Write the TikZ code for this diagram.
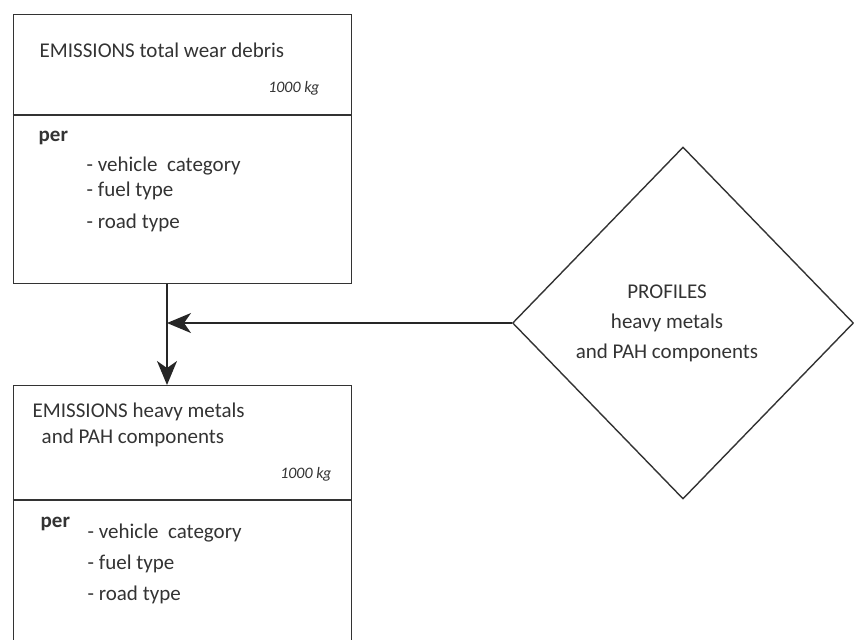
\documentclass[tikz,border=0pt]{standalone}
\usepackage{fontspec}
\setmainfont{Carlito}
\usetikzlibrary{shapes.geometric, arrows.meta}

\begin{document}
\begin{tikzpicture}[x=0.5pt, y=-0.5pt, line width=0.7pt,
		box/.style={draw=black!80, rectangle, inner sep=0pt, anchor=north west, minimum width=169pt},
		lbl/.style={anchor=base west, inner sep=0pt, text=black!80, font=\fontsize{10.5}{12}\selectfont},
		amount/.style={anchor=base east, inner sep=0pt, text=black!80, font=\fontsize{8}{9}\selectfont\itshape},
		flow/.style={draw=black!85, line width=0.8pt, -{Stealth[length=12pt, width=10pt, inset=3.5pt]}}]
		\useasboundingbox (0, 0) rectangle (854, 639);
		\clip (0, 0) rectangle (854, 639);
		
		\node[box, minimum height=134.5pt] (wear) at (12.5, 14) {};
		\draw[black!80] (wear.west |- 0, 115) -- (wear.east |- 0, 115);
		\node[lbl] (weartitle) at (39, 57) {EMISSIONS total wear debris};
		\node[amount] (wearkg) at (320, 92) {1000 kg};
		\node[lbl, font=\fontsize{10.5}{12}\selectfont\bfseries] (wearper) at (38, 141) {per};
		\node[lbl] (wearveh) at (86, 171) {- vehicle\ \ category};
		\node[lbl] (wearfuel) at (86, 196) {- fuel type};
		\node[lbl] (wearroad) at (86, 228) {- road type};
		
		\node[box, minimum height=140pt] (metals) at (12.5, 385) {};
		\draw[black!80] (metals.west |- 0, 500) -- (metals.east |- 0, 500);
		\node[lbl] (metalstitle) at (32, 417) {EMISSIONS heavy metals};
		\node[lbl] (metalstitleb) at (41, 443) {and PAH components};
		\node[amount] (metalskg) at (332, 478) {1000 kg};
		\node[lbl, font=\fontsize{10.5}{12}\selectfont\bfseries] (metalsper) at (40, 527) {per};
		\node[lbl] (metalsveh) at (87, 538) {- vehicle\ \ category};
		\node[lbl] (metalsfuel) at (87, 569) {- fuel type};
		\node[lbl] (metalsroad) at (87, 600) {- road type};
		
		\node[diamond, draw=black!80, inner sep=0pt, minimum width=170.5pt, minimum height=176pt] (profiles) at (683, 323) {};
		\node[align=center, text=black!80, font=\fontsize{10.5}{15}\selectfont] (profilestext) at (667, 323)
			{PROFILES\\heavy metals\\and PAH components};
		
		\coordinate (join) at (167, 323);
		\draw[flow] (wear.south -| join) -- (metals.north -| join);
		\draw[flow] (profiles.west) -- (join);
	\end{tikzpicture}
\end{document}
